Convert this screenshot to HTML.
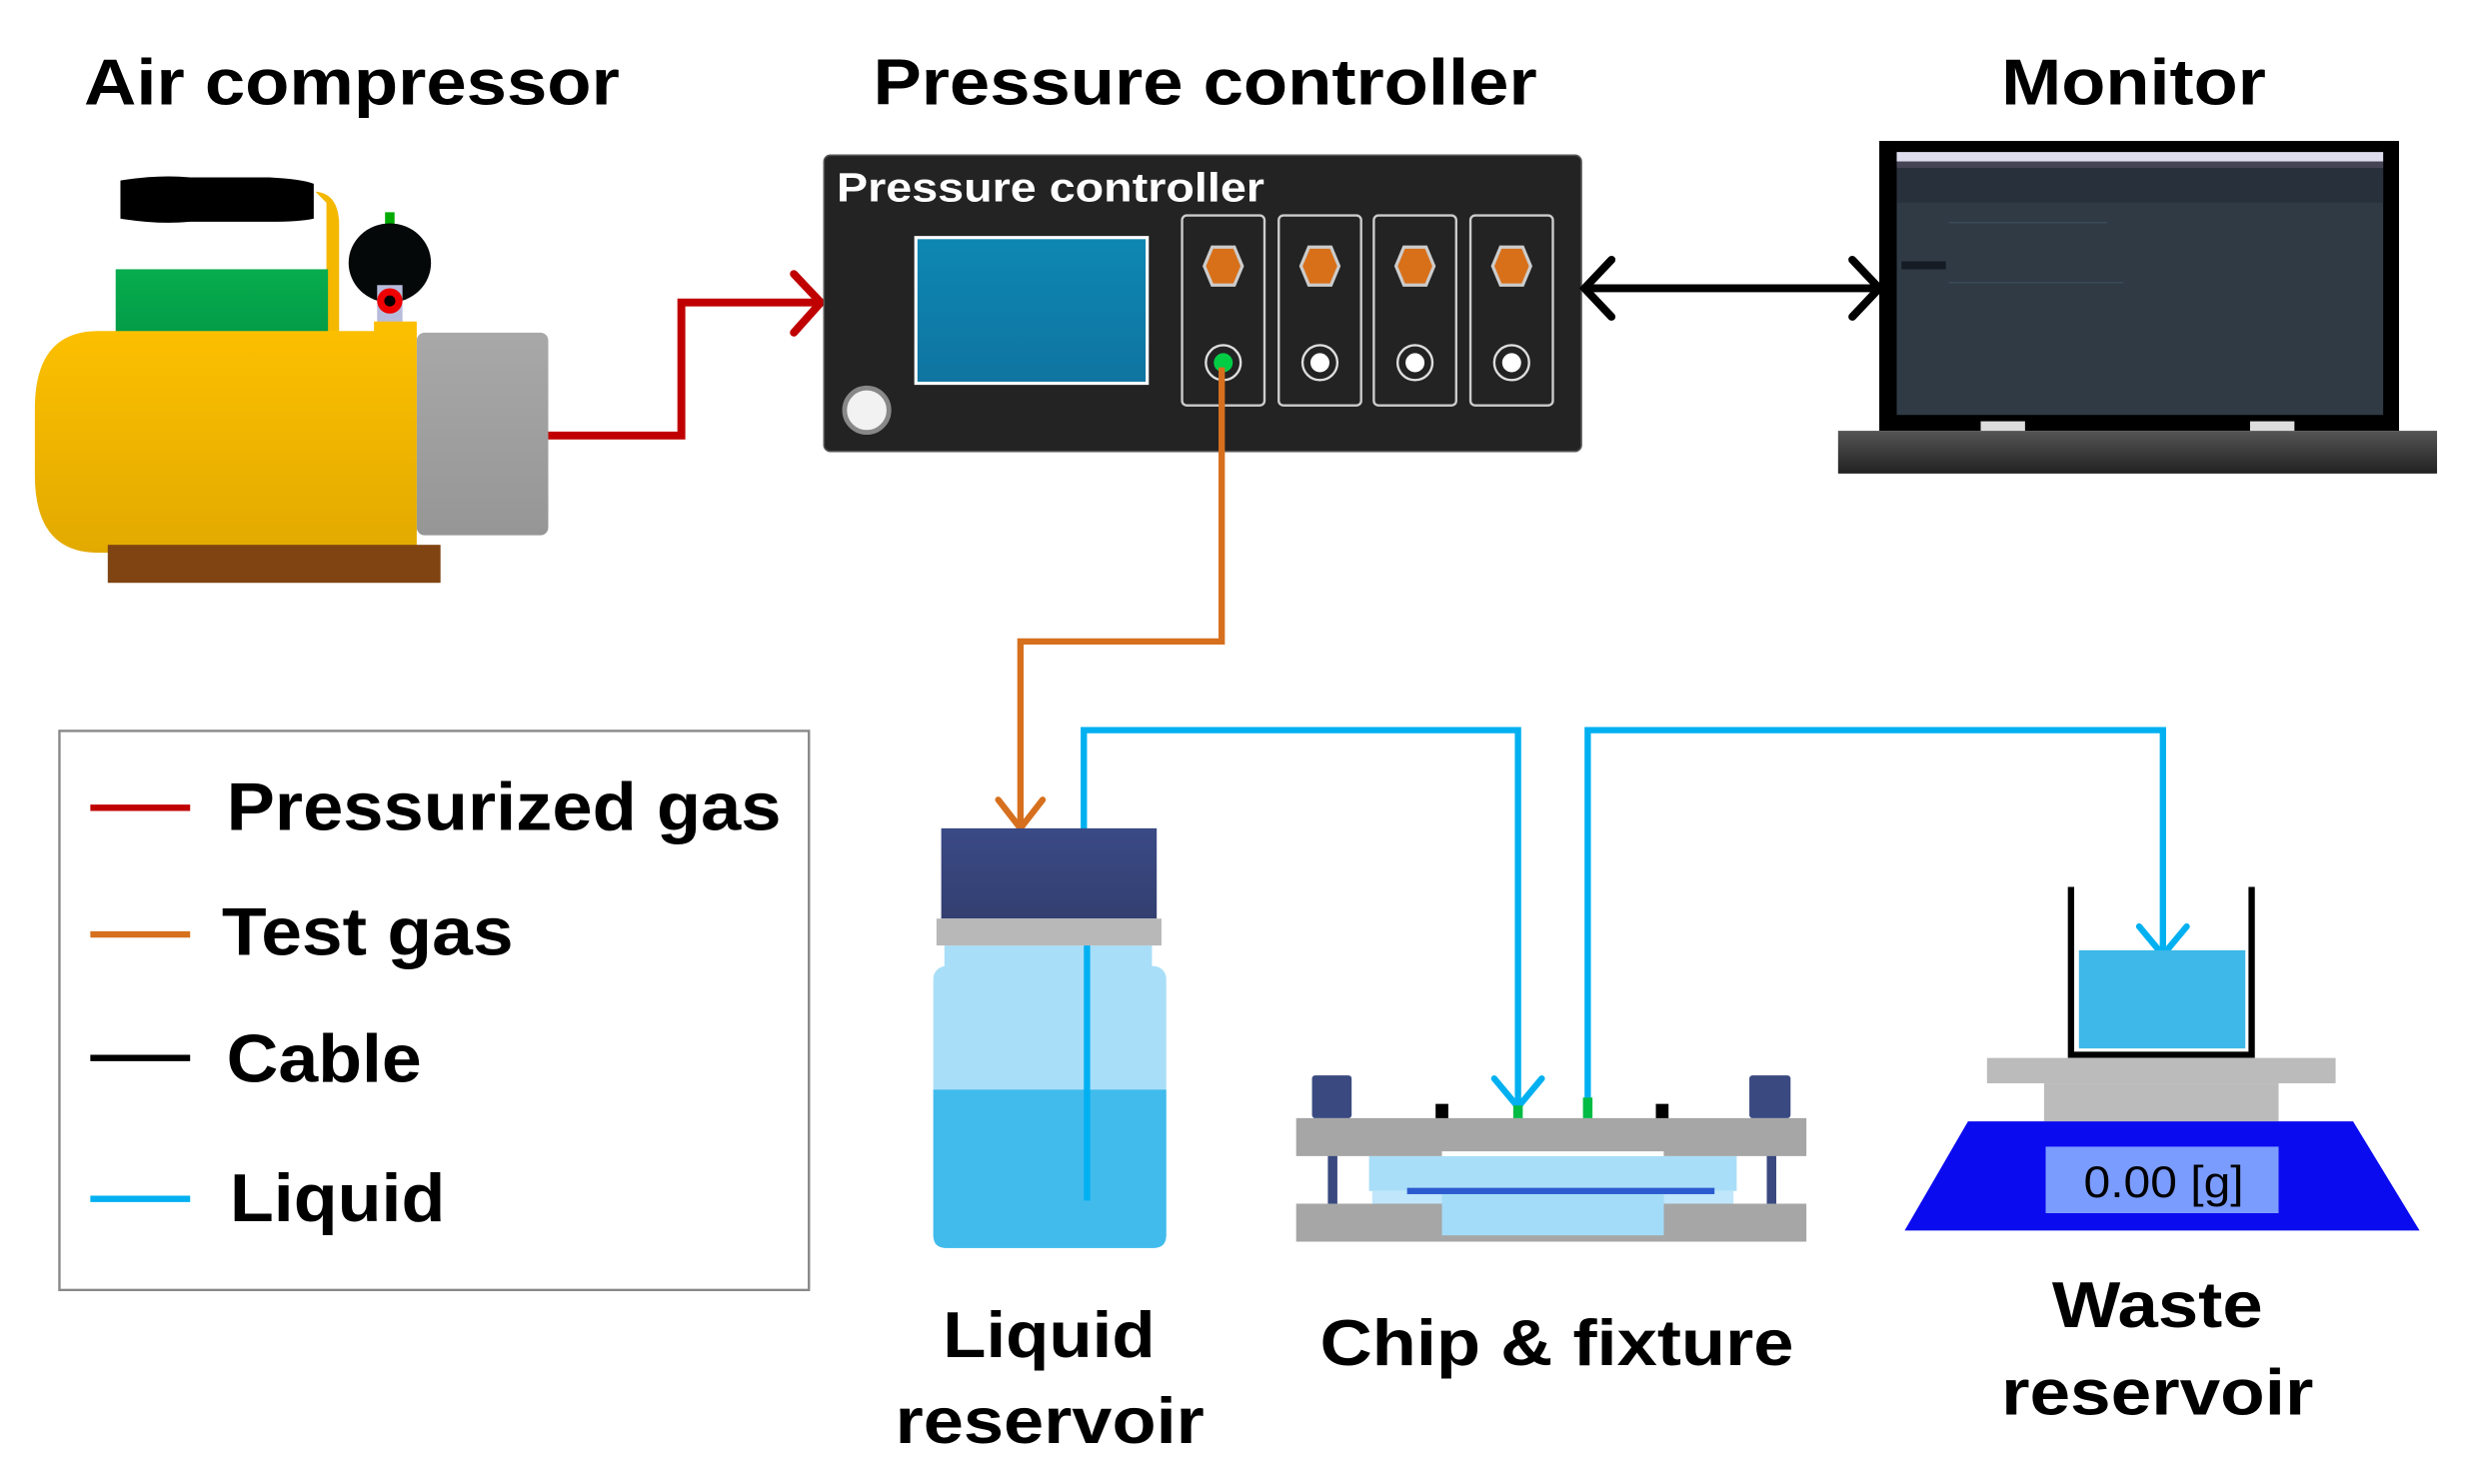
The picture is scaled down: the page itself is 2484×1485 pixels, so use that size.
<!DOCTYPE html>
<html><head><meta charset="utf-8"><style>
html,body{margin:0;padding:0;background:#fff;}
svg{display:block;}
text{font-family:"Liberation Sans",Arial,sans-serif;font-weight:bold;}
</style></head><body>
<svg width="2484" height="1485" viewBox="0 0 1567 937" xmlns="http://www.w3.org/2000/svg" preserveAspectRatio="none">
<defs>
<linearGradient id="yel" x1="0" y1="0" x2="0" y2="1"><stop offset="0" stop-color="#fcbf00"/><stop offset="1" stop-color="#e2aa00"/></linearGradient>
<linearGradient id="gry" x1="0" y1="0" x2="0" y2="1"><stop offset="0" stop-color="#a8a8a8"/><stop offset="1" stop-color="#969696"/></linearGradient>
<linearGradient id="grn" x1="0" y1="0" x2="0" y2="1"><stop offset="0" stop-color="#07ad4e"/><stop offset="1" stop-color="#039b47"/></linearGradient>
<linearGradient id="scr" x1="0" y1="0" x2="0" y2="1"><stop offset="0" stop-color="#0e87b3"/><stop offset="1" stop-color="#0f74a0"/></linearGradient>
<linearGradient id="lb" x1="0" y1="0" x2="0" y2="1"><stop offset="0" stop-color="#3a4a86"/><stop offset="1" stop-color="#333f70"/></linearGradient>
<linearGradient id="base" x1="0" y1="0" x2="0" y2="1"><stop offset="0" stop-color="#555"/><stop offset="1" stop-color="#222"/></linearGradient>
</defs>

<text x="53" y="66" font-size="41" textLength="338" lengthAdjust="spacingAndGlyphs">Air compressor</text>
<text x="551" y="66" font-size="41" textLength="419" lengthAdjust="spacingAndGlyphs">Pressure controller</text>
<text x="1263" y="66" font-size="41" textLength="167" lengthAdjust="spacingAndGlyphs">Monitor</text>

<path d="M199 121 Q213 122 214 140 L214 212 L206 212 L206 128 Z" fill="#f4b800"/>
<path d="M76 114 Q100 110 120 112 L170 112 Q190 113 198 116 L198 138 Q190 140 170 140 L120 140 Q100 142 76 138 Z" fill="#000"/>
<rect x="73" y="170" width="134" height="42" fill="url(#grn)"/>
<rect x="243" y="134" width="6" height="10" fill="#0a0"/>
<ellipse cx="246" cy="166" rx="26" ry="25" fill="#050808"/>
<rect x="238" y="180" width="16" height="26" fill="#b8bcdc"/>
<circle cx="246" cy="190" r="8" fill="#e00"/>
<circle cx="246" cy="190" r="3.5" fill="#000"/>
<rect x="263" y="210" width="83" height="128" rx="5" fill="url(#gry)"/>
<path d="M62 209 L263 209 L263 349 L62 349 Q22 349 22 300 L22 258 Q22 209 62 209 Z" fill="url(#yel)"/>
<rect x="236" y="203" width="27" height="8" fill="#fcbf00"/>
<rect x="68" y="344" width="210" height="24" fill="#7f4411"/>

<polyline points="346,275 430,275 430,191 515,191" fill="none" stroke="#c00000" stroke-width="5"/>
<polyline points="501,173 518,191 501,210" fill="none" stroke="#c00000" stroke-width="5" stroke-linecap="round"/>

<rect x="520" y="98" width="478" height="187" rx="4" fill="#232323" stroke="#555" stroke-width="1"/>
<text x="528" y="127" font-size="26" fill="#fff" textLength="270" lengthAdjust="spacingAndGlyphs">Pressure controller</text>
<rect x="578" y="150" width="146" height="92" fill="url(#scr)" stroke="#fff" stroke-width="2"/>
<circle cx="547" cy="259" r="14" fill="#f2f2f2" stroke="#888" stroke-width="3"/>
<g>
<rect x="746" y="136" width="52" height="120" rx="3" fill="none" stroke="#ccc" stroke-width="1.5"/>
<polygon points="760,168 765,156 779,156 784,168 779,180 765,180" fill="#d8701a" stroke="#ccc" stroke-width="2"/>
<circle cx="772" cy="229" r="11" fill="none" stroke="#ddd" stroke-width="1.5"/>
<circle cx="772" cy="229" r="6" fill="#0c4"/>
<rect x="807" y="136" width="52" height="120" rx="3" fill="none" stroke="#ccc" stroke-width="1.5"/>
<polygon points="821,168 826,156 840,156 845,168 840,180 826,180" fill="#d8701a" stroke="#ccc" stroke-width="2"/>
<circle cx="833" cy="229" r="11" fill="none" stroke="#ddd" stroke-width="1.5"/>
<circle cx="833" cy="229" r="6" fill="#fff"/>
<rect x="867" y="136" width="52" height="120" rx="3" fill="none" stroke="#ccc" stroke-width="1.5"/>
<polygon points="881,168 886,156 900,156 905,168 900,180 886,180" fill="#d8701a" stroke="#ccc" stroke-width="2"/>
<circle cx="893" cy="229" r="11" fill="none" stroke="#ddd" stroke-width="1.5"/>
<circle cx="893" cy="229" r="6" fill="#fff"/>
<rect x="928" y="136" width="52" height="120" rx="3" fill="none" stroke="#ccc" stroke-width="1.5"/>
<polygon points="942,168 947,156 961,156 966,168 961,180 947,180" fill="#d8701a" stroke="#ccc" stroke-width="2"/>
<circle cx="954" cy="229" r="11" fill="none" stroke="#ddd" stroke-width="1.5"/>
<circle cx="954" cy="229" r="6" fill="#fff"/>
</g>

<line x1="1002" y1="182" x2="1184" y2="182" stroke="#000" stroke-width="5"/>
<polyline points="1017,164 1000,182 1017,200" fill="none" stroke="#000" stroke-width="5" stroke-linecap="round"/>
<polyline points="1169,164 1186,182 1169,200" fill="none" stroke="#000" stroke-width="5" stroke-linecap="round"/>

<rect x="1186" y="89" width="328" height="183" fill="#000"/>
<rect x="1197" y="96" width="307" height="166" fill="#2f3a45"/>
<rect x="1197" y="96" width="307" height="6" fill="#dde"/>
<rect x="1197" y="102" width="307" height="4" fill="#445"/>
<rect x="1197" y="106" width="307" height="22" fill="#28313b"/>
<rect x="1200" y="165" width="28" height="5" fill="#151b22"/>
<rect x="1230" y="140" width="100" height="1" fill="#3a4a58"/>
<rect x="1230" y="178" width="110" height="1" fill="#3a4a58"/>
<rect x="1160" y="272" width="378" height="27" fill="url(#base)"/>
<rect x="1250" y="266" width="28" height="6" fill="#ddd"/>
<rect x="1420" y="266" width="28" height="6" fill="#ddd"/>

<polyline points="771,232 771,405 644,405 644,522" fill="none" stroke="#d6701e" stroke-width="4"/>
<polyline points="630,505 644,523 658,505" fill="none" stroke="#d6701e" stroke-width="4" stroke-linecap="round"/>

<polyline points="684,524 684,461 958,461 958,700" fill="none" stroke="#00b0f0" stroke-width="4"/>
<polyline points="943,681 958,699 973,681" fill="none" stroke="#00b0f0" stroke-width="4" stroke-linecap="round"/>
<polyline points="1002,700 1002,461 1365,461 1365,602" fill="none" stroke="#00b0f0" stroke-width="4"/>
<polyline points="1350,585 1365,603 1380,585" fill="none" stroke="#00b0f0" stroke-width="4" stroke-linecap="round"/>

<rect x="37.5" y="461.5" width="473" height="353" fill="#fff" stroke="#888" stroke-width="1.5"/>
<line x1="57" y1="510" x2="120" y2="510" stroke="#c00000" stroke-width="4"/>
<line x1="57" y1="590" x2="120" y2="590" stroke="#d6701e" stroke-width="4"/>
<line x1="57" y1="668" x2="120" y2="668" stroke="#000" stroke-width="4"/>
<line x1="57" y1="757" x2="120" y2="757" stroke="#00b0f0" stroke-width="4"/>
<text x="143" y="524" font-size="43" textLength="350" lengthAdjust="spacingAndGlyphs">Pressurized gas</text>
<text x="140" y="603" font-size="43" textLength="184" lengthAdjust="spacingAndGlyphs">Test gas</text>
<text x="143" y="683" font-size="43" textLength="123" lengthAdjust="spacingAndGlyphs">Cable</text>
<text x="145" y="771" font-size="43" textLength="136" lengthAdjust="spacingAndGlyphs">Liquid</text>

<rect x="596" y="597" width="131" height="20" fill="#a9def8"/>
<rect x="589" y="610" width="147" height="178" rx="8" fill="#a9def8"/>
<path d="M589 688 L736 688 L736 780 Q736 788 728 788 L597 788 Q589 788 589 780 Z" fill="#40bbec"/>
<rect x="594" y="523" width="136" height="57" fill="url(#lb)"/>
<rect x="591" y="580" width="142" height="17" fill="#b8b8b8"/>
<line x1="686" y1="597" x2="686" y2="758" stroke="#00b0f0" stroke-width="4"/>

<rect x="838" y="728" width="6" height="34" fill="#3a4a80"/>
<rect x="1115" y="728" width="6" height="34" fill="#3a4a80"/>
<rect x="864" y="730" width="232" height="22" fill="#a9def8"/>
<rect x="866" y="752" width="228" height="12" fill="#bfe6fb"/>
<rect x="888" y="750" width="194" height="4" fill="#2c5bd0"/>
<path d="M818 760 L910 760 L910 754 L1050 754 L1050 760 L1140 760 L1140 784 L818 784 Z" fill="#a6a6a6"/>
<rect x="910" y="754" width="140" height="26" fill="#a3dcf8"/>
<path d="M818 706 L1140 706 L1140 730 L1050 730 L1050 727 L910 727 L910 730 L818 730 Z" fill="#a6a6a6"/>
<rect x="828" y="679" width="25" height="27" rx="2" fill="#3a4a80"/>
<rect x="1104" y="679" width="26" height="27" rx="2" fill="#3a4a80"/>
<rect x="906" y="697" width="8" height="9" fill="#000"/>
<rect x="1045" y="697" width="8" height="9" fill="#000"/>
<rect x="955" y="698" width="6" height="8" fill="#0b4"/>
<rect x="999" y="693" width="6" height="13" fill="#0b4"/>

<rect x="1312" y="600" width="105" height="62" fill="#3db8e8"/>
<polyline points="1307,560 1307,666 1421,666 1421,560" fill="none" stroke="#000" stroke-width="4"/>
<rect x="1254" y="668" width="220" height="16" fill="#bbb"/>
<rect x="1290" y="684" width="148" height="24" fill="#bbb"/>
<polygon points="1242,708 1485,708 1527,777 1202,777" fill="#0b0bf0"/>
<rect x="1291" y="724" width="147" height="42" fill="#7b9cff"/>
<text x="1315" y="756" font-size="28" style="font-weight:normal" textLength="101" lengthAdjust="spacingAndGlyphs">0.00 [g]</text>

<text x="595" y="857" font-size="41" textLength="134" lengthAdjust="spacingAndGlyphs">Liquid</text>
<text x="565" y="911" font-size="41" textLength="195" lengthAdjust="spacingAndGlyphs">reservoir</text>
<text x="833" y="862" font-size="41" textLength="299" lengthAdjust="spacingAndGlyphs">Chip &amp; fixture</text>
<text x="1295" y="838" font-size="41" textLength="133" lengthAdjust="spacingAndGlyphs">Waste</text>
<text x="1263" y="893" font-size="41" textLength="197" lengthAdjust="spacingAndGlyphs">reservoir</text>
</svg>
</body></html>
